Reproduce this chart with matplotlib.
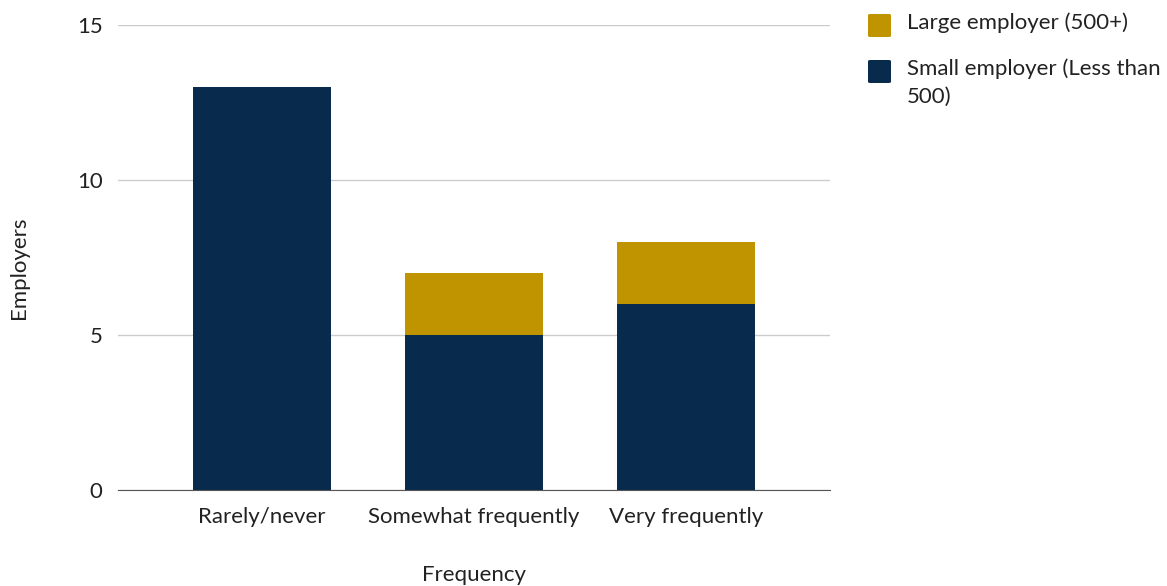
import numpy as np
import matplotlib.pyplot as plt
from matplotlib.patches import FancyBboxPatch

# Chart data
categories = ['Rarely/never', 'Somewhat frequently', 'Very frequently']
small = [13, 5, 6]
large = [0, 2, 2]
series_labels = ['Large employer (500+)', 'Small employer (Less than\n500)']

navy = '#082A4C'
gold = '#C09400'
text_color = '#222222'
W, H = 1167, 586

plt.rcParams['font.family'] = ['Lato', 'DejaVu Sans']
fs = 16

fig = plt.figure(figsize=(W / 100, H / 100), dpi=100)
ax = fig.add_axes([118 / W, 1 - 490 / H, 712 / W, 465 / H])

x = np.arange(len(categories))
width = 0.651
ax.bar(x, small, width, color=navy, zorder=3)
ax.bar(x, large, width, bottom=small, color=gold, zorder=3)

ax.set_xlim(-0.68, 2.68)
ax.set_ylim(0, 15)
ax.set_yticks([0, 5, 10, 15])
ax.set_xticks(x)
ax.set_xticklabels(categories)
ax.tick_params(axis='both', length=0, labelsize=fs, colors=text_color)
ax.tick_params(axis='y', pad=11)
ax.tick_params(axis='x', pad=12)

ax.grid(axis='y', color='#cccccc', linewidth=1, zorder=0)
for s in ['top', 'right', 'left']:
    ax.spines[s].set_visible(False)
ax.spines['bottom'].set_color('#555555')
ax.spines['bottom'].set_zorder(4)

# axis titles
fig.text(474 / W, 1 - 575 / H, 'Frequency', fontsize=fs, color=text_color,
         ha='center', va='center')
fig.text(19 / W, 1 - 268 / H, 'Employers', fontsize=fs, color=text_color,
         ha='center', va='center', rotation=90)

# legend, drawn by hand so the square lines up with the first text line
for i, (lab, col) in enumerate(zip(series_labels, [gold, navy])):
    yc = 25 + 46 * i
    sq = FancyBboxPatch((868 / W, 1 - (yc + 12) / H), 23 / W, 23 / H,
                        boxstyle='round,pad=0,rounding_size=0.002',
                        transform=fig.transFigure, color=col, linewidth=0)
    fig.patches.append(sq)
    fig.text(907 / W, 1 - (yc - 13) / H, lab, fontsize=fs, color=text_color,
             ha='left', va='top', linespacing=1.5)

fig.savefig('out.png', dpi=100)
